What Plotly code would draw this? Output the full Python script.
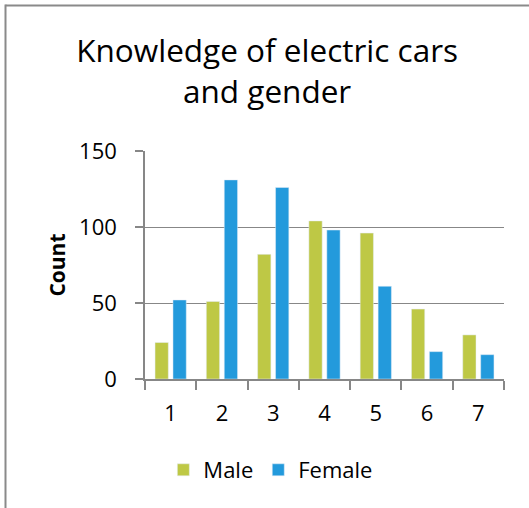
import plotly.graph_objects as go

categories = ["1", "2", "3", "4", "5", "6", "7"]
male = [24, 51, 82, 104, 96, 46, 29]
female = [52, 131, 126, 98, 61, 18, 16]
y_ticks = [0, 50, 100, 150]

W, H = 529, 508
ML, MR, MT, MB = 145, 25, 151, 129
PW, PH = W - ML - MR, H - MT - MB

FONT = "Open Sans"
GRID = "#878787"

fig = go.Figure()
fig.add_trace(go.Bar(name="Male", x=categories, y=male, marker_color="#BEC845"))
fig.add_trace(go.Bar(name="Female", x=categories, y=female, marker_color="#239ADC"))

def px_to_paper_x(px):
    return (px - ML) / PW

def px_to_paper_y(py):
    return (H - MB - py) / PH

border = dict(color="#8A8A8A", width=2)
fig.add_shape(type="line", xref="paper", yref="paper",
              x0=px_to_paper_x(5.5), x1=px_to_paper_x(560),
              y0=px_to_paper_y(5.5), y1=px_to_paper_y(5.5), line=border, layer="above")
fig.add_shape(type="line", xref="paper", yref="paper",
              x0=px_to_paper_x(5.5), x1=px_to_paper_x(5.5),
              y0=px_to_paper_y(4.5), y1=px_to_paper_y(560), line=border, layer="above")

fig.update_layout(
    width=W, height=H,
    margin=dict(l=ML, r=MR, t=MT, b=MB, autoexpand=False),
    paper_bgcolor="white", plot_bgcolor="white",
    font=dict(family=FONT, color="#000000", size=22),
    title=dict(text="Knowledge of electric cars<br>and gender",
               x=0.505, xref="container", xanchor="center",
               y=1 - 62 / H, yref="container", yanchor="top",
               font=dict(family=FONT, size=31.5, color="#000000")),
    barmode="group", bargap=0.30, bargroupgap=0.26,
    showlegend=True,
    legend=dict(orientation="h", x=0.512, xref="container", xanchor="center",
                y=1 - 470 / H, yref="container", yanchor="middle",
                font=dict(family=FONT, size=22, color="#000000"),
                itemwidth=30, traceorder="normal"),
    xaxis=dict(type="category", showgrid=False, showline=True, linecolor=GRID, linewidth=1.5,
               ticks="outside", tickson="boundaries", ticklen=9, tickcolor=GRID, tickwidth=1.5,
               tickfont=dict(family=FONT, size=22), ticklabelstandoff=14),
    yaxis=dict(range=[0, 150], tickvals=y_ticks, showgrid=True, gridcolor=GRID, gridwidth=1.2,
               showline=True, linecolor=GRID, linewidth=1.5, zeroline=False,
               ticks="outside", ticklen=8, tickcolor=GRID, tickwidth=1.5,
               tickfont=dict(family=FONT, size=22), ticklabelstandoff=14,
               title=dict(text="<b>Count</b>", font=dict(family=FONT, size=21), standoff=8)),
)

fig.write_html("out.html", config={"displayModeBar": False},
               post_script="document.body.style.margin='0';")
